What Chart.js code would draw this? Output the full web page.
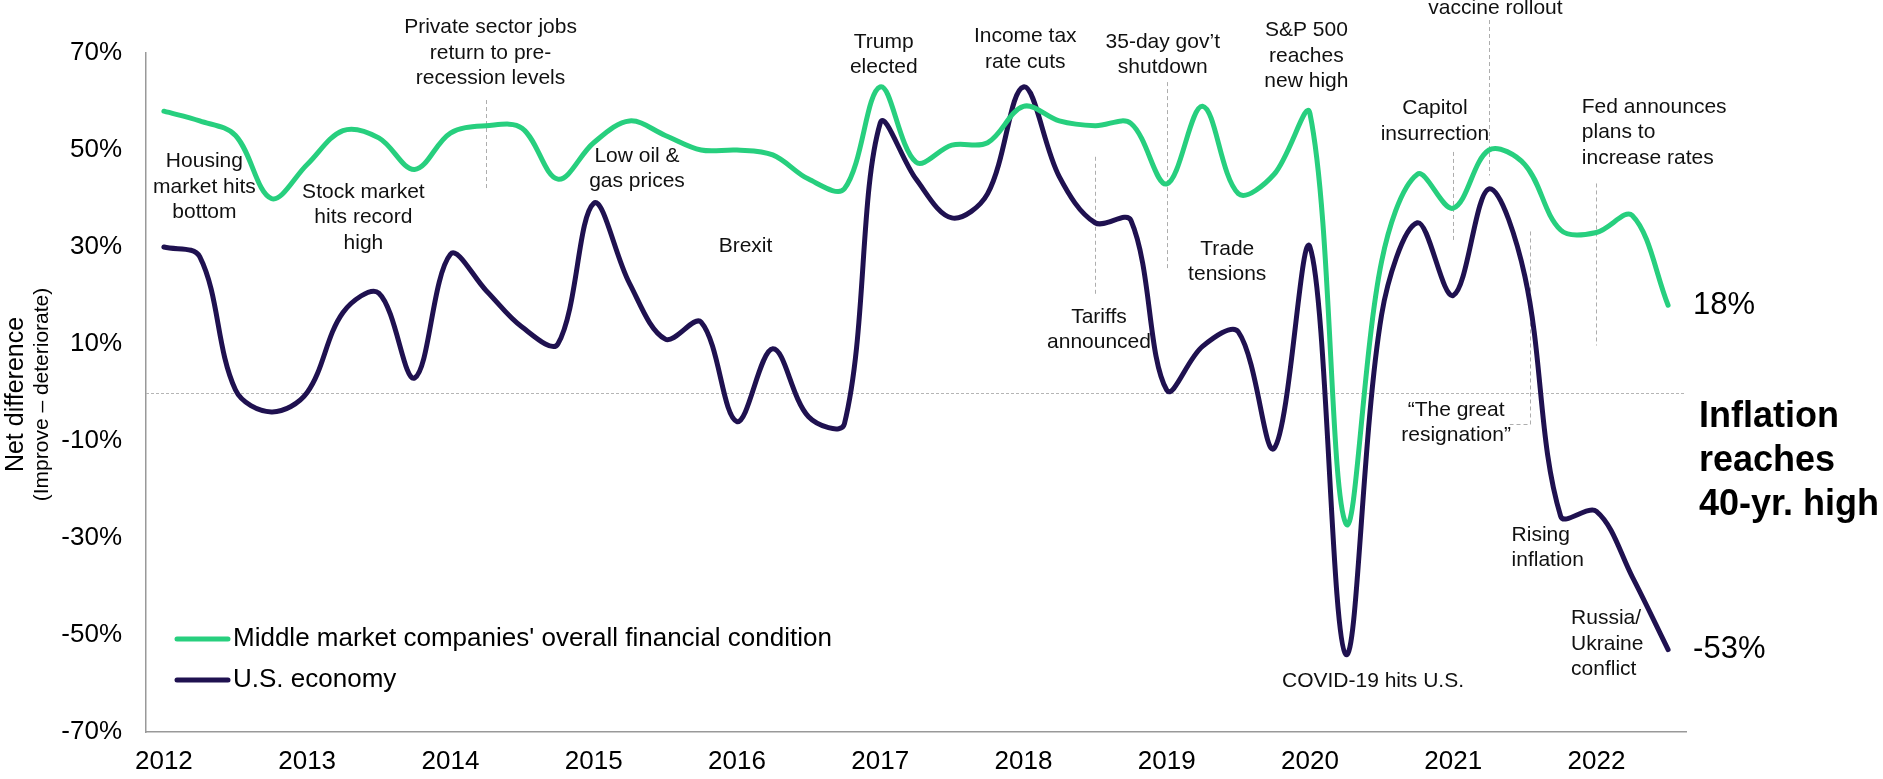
<!DOCTYPE html>
<html>
<head>
<meta charset="utf-8">
<script src="https://cdn.jsdelivr.net/npm/chart.js@4.4.1/dist/chart.umd.min.js"></script>
<style>
html,body{margin:0;padding:0;background:#fff;overflow:hidden}
#wrap{width:1883px;height:779px;position:relative}
</style>
</head>
<body>
<div id="wrap"><canvas id="c" width="1883" height="779"></canvas></div>
<script>
// ---------------- DATA ----------------
const quarters = [
  '2012 Q1','2012 Q2','2012 Q3','2012 Q4',
  '2013 Q1','2013 Q2','2013 Q3','2013 Q4',
  '2014 Q1','2014 Q2','2014 Q3','2014 Q4',
  '2015 Q1','2015 Q2','2015 Q3','2015 Q4',
  '2016 Q1','2016 Q2','2016 Q3','2016 Q4',
  '2017 Q1','2017 Q2','2017 Q3','2017 Q4',
  '2018 Q1','2018 Q2','2018 Q3','2018 Q4',
  '2019 Q1','2019 Q2','2019 Q3','2019 Q4',
  '2020 Q1','2020 Q2','2020 Q3','2020 Q4',
  '2021 Q1','2021 Q2','2021 Q3','2021 Q4',
  '2022 Q1','2022 Q2','2022 Q3'
];
const yearTickLabels = ['2012','2013','2014','2015','2016','2017','2018','2019','2020','2021','2022'];
const yTickValues = [-70,-50,-30,-10,10,30,50,70];

const seriesNames = ["Middle market companies' overall financial condition", "U.S. economy"];
const midMarket = [58,56,53,40, 47,54,52.5,46, 53.5,55,54.5,44, 51.5,56,53,50, 50,49,44,42,
                   63,47.5,51,51.5, 59,56,55,55.5, 43,59,41,45, 57.5,-27,27,45, 38,50,47,33.5, 33,36.5,18];
const usEconomy = [30,28,0.5,-4, 0,16.5,20.5,3, 28.5,21,13.5,10, 39,22.5,11,14.5, -6,9,-5,-6.5,
                   55.5,44,36,41, 63,44.5,35,35.5, 0.5,9.5,12.5,-11.5, 30,-54,16,35, 20,42,24,-25.5, -24.5,-38,-53];

// event notes: anchor = (category index, value of first text line)
const eventNotes = [
  {lines:['Housing','market hits','bottom'], idx:1.13, val:47.6, align:'center'},
  {lines:['Stock market','hits record','high'], idx:5.57, val:41.4, align:'center'},
  {lines:['Private sector jobs','return to pre-','recession levels'], idx:9.12, val:75.3, align:'center'},
  {lines:['Low oil &','gas prices'], idx:13.21, val:48.8, align:'center'},
  {lines:['Brexit'], idx:16.24, val:30.1, align:'center'},
  {lines:['Trump','elected'], idx:20.1, val:72.3, align:'center'},
  {lines:['Income tax','rate cuts'], idx:24.05, val:73.4, align:'center'},
  {lines:['Tariffs','announced'], idx:26.11, val:15.6, align:'center'},
  {lines:['35-day gov\u2019t','shutdown'], idx:27.89, val:72.3, align:'center'},
  {lines:['Trade','tensions'], idx:29.69, val:29.6, align:'center'},
  {lines:['S&P 500','reaches','new high'], idx:31.9, val:74.7, align:'center'},
  {lines:['COVID-19 hits U.S.'], idx:33.76, val:-59.6, align:'center'},
  {lines:['Capitol','insurrection'], idx:35.49, val:58.6, align:'center'},
  {lines:['vaccine rollout'], idx:37.18, val:79.2, align:'center'},
  {lines:['\u201CThe great','resignation\u201D'], idx:36.08, val:-3.6, align:'center'},
  {lines:['Rising','inflation'], idx:37.63, val:-29.4, align:'left'},
  {lines:['Fed announces','plans to','increase rates'], idx:39.59, val:58.9, align:'left'},
  {lines:['Russia/','Ukraine','conflict'], idx:39.29, val:-46.6, align:'left'}
];
// dashed leader lines: category index, from value, to value, optional hook to index
const leaders = [
  {idx:9, from:60.3, to:42.2},
  {idx:26, from:48.6, to:19.8},
  {idx:28, from:64, to:25.7},
  {idx:36, from:49.6, to:31.1},
  {idx:37, from:76.8, to:44.8},
  {idx:38.14, from:33.2, to:-6.4, hook:37.58},
  {idx:40, from:43.1, to:9.8}
];
const headline = ['Inflation','reaches','40-yr. high'];

// ---------------- STYLE ----------------
const GREEN = '#27CF7E';
const NAVY = '#1F1150';
const FONT = "'Liberation Sans', Arial, Helvetica, sans-serif";

const overlay = {
  id: 'overlay',
  beforeDatasetsDraw(chart) {
    const {ctx, chartArea: a, scales: {x, y}} = chart;
    ctx.save();
    // zero line
    ctx.strokeStyle = '#b5b5b5';
    ctx.lineWidth = 1;
    ctx.setLineDash([3, 2]);
    const y0 = Math.round(y.getPixelForValue(0)) + 0.5;
    ctx.beginPath(); ctx.moveTo(a.left, y0); ctx.lineTo(a.right, y0); ctx.stroke();
    // leader lines
    ctx.strokeStyle = '#adadad';
    ctx.setLineDash([4, 3]);
    leaders.forEach(m => {
      const px = Math.round(x.getPixelForValue(m.idx)) + 0.5;
      const yb = Math.round(y.getPixelForValue(m.to)) + 0.5;
      ctx.beginPath();
      ctx.moveTo(px, y.getPixelForValue(m.from));
      ctx.lineTo(px, yb);
      if (m.hook != null) ctx.lineTo(x.getPixelForValue(m.hook), yb);
      ctx.stroke();
    });
    ctx.setLineDash([]);
    // event notes
    ctx.fillStyle = '#111';
    ctx.font = '21px ' + FONT;
    ctx.textBaseline = 'middle';
    eventNotes.forEach(e => {
      ctx.textAlign = e.align;
      const px = x.getPixelForValue(e.idx);
      const py = y.getPixelForValue(e.val);
      e.lines.forEach((t, k) => ctx.fillText(t, px, py + k * 25.5));
    });
    ctx.restore();
  },
  afterDatasetsDraw(chart) {
    const {ctx, chartArea: a, scales: {x, y}} = chart;
    ctx.save();
    ctx.fillStyle = '#000';
    ctx.textBaseline = 'middle';
    ctx.textAlign = 'left';
    // end labels
    ctx.font = '31px ' + FONT;
    const li = quarters.length - 1;
    [midMarket, usEconomy].forEach(s => {
      ctx.fillText(s[li] + '%', x.getPixelForValue(li) + 25, y.getPixelForValue(s[li]));
    });
    // headline
    ctx.font = 'bold 36px ' + FONT;
    const hy = y.getPixelForValue(-5);
    headline.forEach((t, k) => ctx.fillText(t, a.right + 13, hy + k * 44));
    // legend
    const colors = [GREEN, NAVY];
    ctx.font = '26px ' + FONT;
    seriesNames.forEach((n, k) => {
      const ly = a.bottom - 93 + k * 41;
      ctx.strokeStyle = colors[k];
      ctx.lineWidth = 5;
      ctx.lineCap = 'round';
      ctx.beginPath(); ctx.moveTo(a.left + 31, ly); ctx.lineTo(a.left + 82, ly); ctx.stroke();
      ctx.fillText(n, a.left + 87, ly);
    });
    // axis titles
    const cy = (a.top + a.bottom) / 2;
    ctx.textAlign = 'center';
    ctx.save();
    ctx.translate(16, cy + 2);
    ctx.rotate(-Math.PI / 2);
    ctx.font = '25px ' + FONT;
    ctx.fillText('Net difference', 0, 0);
    ctx.restore();
    ctx.save();
    ctx.translate(42, cy + 2);
    ctx.rotate(-Math.PI / 2);
    ctx.font = '21px ' + FONT;
    ctx.fillText('(Improve \u2013 deteriorate)', 0, 0);
    ctx.restore();
    ctx.restore();
  }
};

new Chart(document.getElementById('c'), {
  type: 'line',
  data: {
    labels: quarters,
    datasets: [
      {label: seriesNames[0], data: midMarket, borderColor: GREEN, backgroundColor: GREEN,
       borderWidth: 5, pointRadius: 0, tension: 0.35, borderCapStyle: 'round', borderJoinStyle: 'round', fill: false},
      {label: seriesNames[1], data: usEconomy, borderColor: NAVY, backgroundColor: NAVY,
       borderWidth: 5, pointRadius: 0, tension: 0.35, borderCapStyle: 'round', borderJoinStyle: 'round', fill: false}
    ]
  },
  options: {
    responsive: false,
    devicePixelRatio: 1,
    animation: false,
    layout: {padding: {top: 53, right: 197, bottom: 0, left: 0}},
    plugins: {legend: {display: false}, tooltip: {enabled: false}},
    scales: {
      x: {
        type: 'category',
        offset: true,
        grid: {display: false, drawTicks: false},
        border: {display: true, color: '#999', width: 1.5},
        ticks: {
          autoSkip: false, maxRotation: 0, minRotation: 0, padding: 14,
          color: '#000', font: {family: FONT, size: 26},
          callback: (v, i) => (i % 4 === 0 ? yearTickLabels[i / 4] : '')
        },
        afterFit: s => { s.height = 47; }
      },
      y: {
        min: -70, max: 70,
        grid: {display: false, drawTicks: false},
        border: {display: true, color: '#999', width: 1.5},
        afterBuildTicks: s => { s.ticks = yTickValues.map(v => ({value: v})); },
        ticks: {padding: 24, color: '#000', font: {family: FONT, size: 26}, callback: v => v + '%'},
        afterFit: s => { s.width = 146; }
      }
    }
  },
  plugins: [overlay]
});
</script>
</body>
</html>
